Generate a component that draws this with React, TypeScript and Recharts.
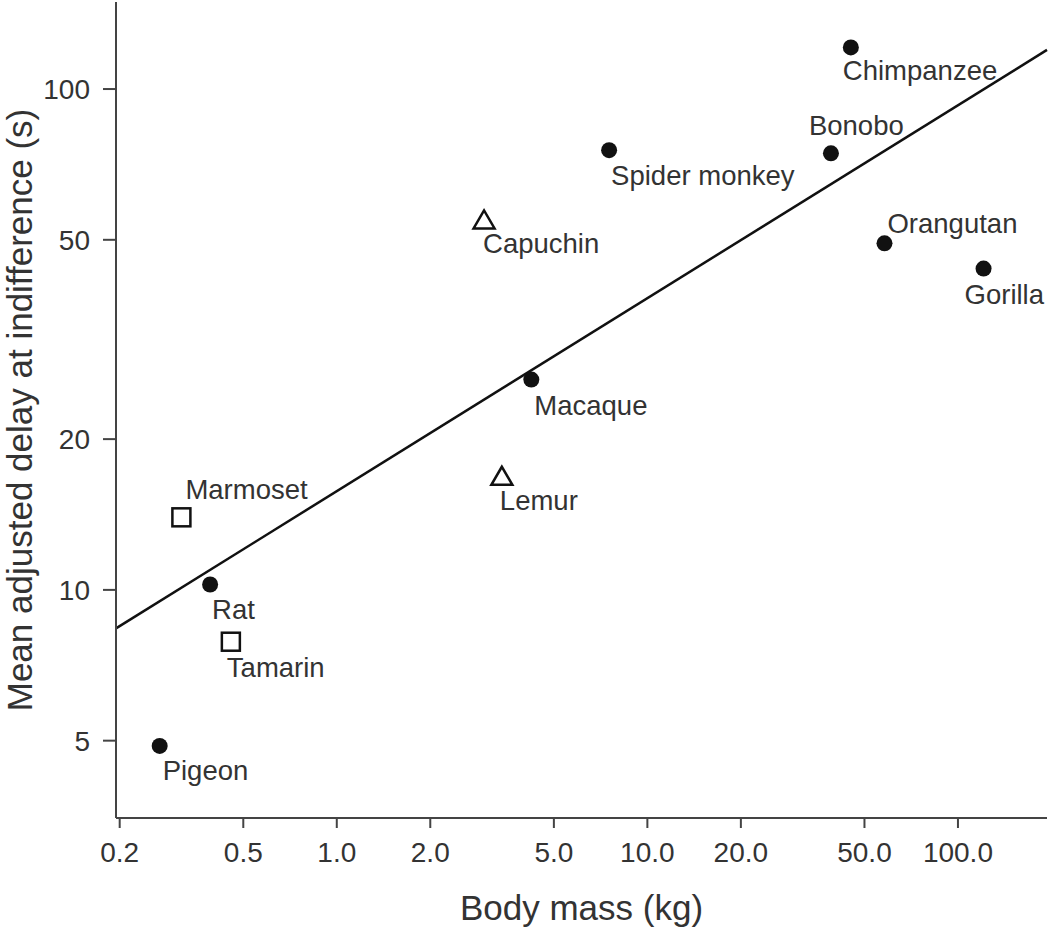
import React from 'react'
import { ScatterChart, Scatter, XAxis, YAxis, ReferenceLine } from 'recharts'

const species = [
  'Pigeon', 'Rat', 'Marmoset', 'Tamarin', 'Capuchin', 'Lemur',
  'Macaque', 'Spider monkey', 'Bonobo', 'Chimpanzee', 'Orangutan', 'Gorilla',
]
const bodyMassKg = [0.269, 0.391, 0.316, 0.456, 2.98, 3.4, 4.23, 7.53, 39.0, 45.2, 58.0, 120.9]
const delaySec = [4.88, 10.25, 13.96, 7.88, 54.9, 16.9, 26.3, 75.5, 74.4, 121.1, 49.2, 43.8]
const markerKind = [
  'circle', 'circle', 'square', 'square', 'triangle', 'triangle',
  'circle', 'circle', 'circle', 'circle', 'circle', 'circle',
]

const xTicks = [0.2, 0.5, 1, 2, 5, 10, 20, 50, 100]
const yTicks = [5, 10, 20, 50, 100]

// fitted line, read at the two edges of the plot
const fitMass = [0.1946, 193.5]
const fitDelay = [8.38, 119.7]

// where each name sits relative to its marker (px: left edge, baseline)
const labelOffsets: Record<string, [number, number]> = {
  Pigeon: [3, 34],
  Rat: [2, 34],
  Marmoset: [4, -18],
  Tamarin: [-4, 35],
  Capuchin: [-1, 34],
  Lemur: [-2, 34],
  Macaque: [3, 35],
  'Spider monkey': [2, 35],
  Bonobo: [-22, -18],
  Chimpanzee: [-8, 33],
  Orangutan: [3, -10],
  Gorilla: [-19, 35],
}

const FONT = '"Liberation Sans", Arial, Helvetica, sans-serif'
const INK = '#111'
const TEXT = '#333'
const FRAME = '#444'

const rows = species.map((name, i) => ({
  name,
  mass: bodyMassKg[i],
  delay: delaySec[i],
  kind: markerKind[i],
}))

function Marker(props: any) {
  const { cx, cy, payload } = props
  if (cx == null || cy == null) return null
  const [dx, dy] = labelOffsets[payload.name] ?? [0, 34]
  let mark: React.ReactNode
  if (payload.kind === 'square') {
    mark = <rect x={cx - 9} y={cy - 9} width={18} height={18} fill="#fff" stroke={INK} strokeWidth={2.5} />
  } else if (payload.kind === 'triangle') {
    mark = (
      <polygon
        points={`${cx},${cy - 9} ${cx - 10.5},${cy + 9} ${cx + 10.5},${cy + 9}`}
        fill="#fff"
        stroke={INK}
        strokeWidth={2.5}
      />
    )
  } else {
    mark = <circle cx={cx} cy={cy} r={8} fill={INK} />
  }
  return (
    <g>
      {mark}
      <text x={cx + dx} y={cy + dy} fontSize={27.5} fill={TEXT} fontFamily={FONT}>
        {payload.name}
      </text>
    </g>
  )
}

export default function App() {
  const tickStyle = { fontSize: 28, fill: TEXT, fontFamily: FONT }
  return (
    <div style={{ position: 'absolute', left: 0, top: 0, width: 1050, height: 930, background: '#fff' }}>
      <ScatterChart width={1050} height={930} margin={{ top: 2, right: 3, bottom: 0, left: 0 }}>
        <XAxis
          dataKey="mass"
          type="number"
          scale="log"
          domain={[0.1946, 193.5]}
          allowDataOverflow
          ticks={xTicks}
          interval={0}
          tickFormatter={(v: number) => v.toFixed(1)}
          height={112}
          tickSize={10}
          tickMargin={14}
          tick={tickStyle}
          axisLine={{ stroke: FRAME, strokeWidth: 2 }}
          tickLine={{ stroke: FRAME, strokeWidth: 2 }}
          label={({ viewBox }: any) => (
            <text
              x={viewBox.x + viewBox.width / 2}
              y={viewBox.y + 102}
              textAnchor="middle"
              fontSize={35}
              fill={TEXT}
              fontFamily={FONT}
            >
              Body mass (kg)
            </text>
          )}
        />
        <YAxis
          dataKey="delay"
          type="number"
          scale="log"
          domain={[3.504, 149.2]}
          allowDataOverflow
          ticks={yTicks}
          interval={0}
          width={116}
          tickSize={13}
          tickMargin={13}
          tick={tickStyle}
          axisLine={{ stroke: FRAME, strokeWidth: 2 }}
          tickLine={{ stroke: FRAME, strokeWidth: 2 }}
          label={({ viewBox }: any) => {
            const cy = viewBox.y + viewBox.height / 2
            const x = viewBox.x + 32
            return (
              <text
                x={x}
                y={cy}
                transform={`rotate(-90, ${x}, ${cy})`}
                textAnchor="middle"
                fontSize={35}
                fill={TEXT}
                fontFamily={FONT}
              >
                Mean adjusted delay at indifference (s)
              </text>
            )
          }}
        />
        <XAxis
          xAxisId="top"
          orientation="top"
          type="number"
          domain={[0, 1]}
          height={0}
          tick={false}
          tickLine={false}
          axisLine={{ stroke: FRAME, strokeWidth: 2 }}
        />
        <YAxis
          yAxisId="right"
          orientation="right"
          type="number"
          domain={[0, 1]}
          width={0}
          tick={false}
          tickLine={false}
          axisLine={{ stroke: FRAME, strokeWidth: 2 }}
        />
        <ReferenceLine
          segment={[
            { x: fitMass[0], y: fitDelay[0] },
            { x: fitMass[1], y: fitDelay[1] },
          ]}
          stroke={INK}
          strokeWidth={2.5}
          ifOverflow="visible"
        />
        <Scatter data={rows} shape={Marker} isAnimationActive={false} />
      </ScatterChart>
    </div>
  )
}
